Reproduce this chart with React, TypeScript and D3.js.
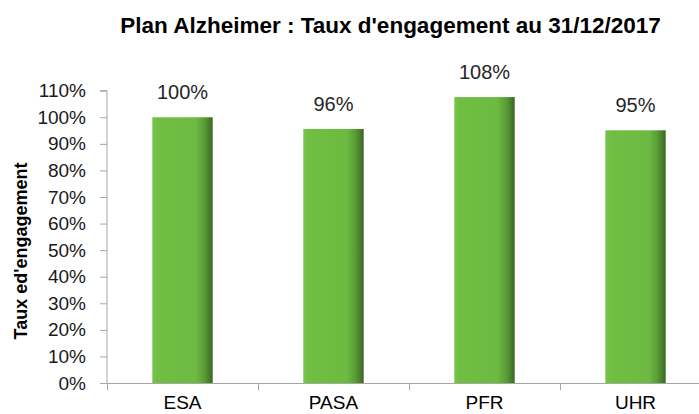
import React, { useRef, useEffect } from "react";
import * as d3 from "d3";

// Chart data
const categories = ["ESA", "PASA", "PFR", "UHR"];
const values = [1.0, 0.956, 1.076, 0.951];
const valueLabels = ["100%", "96%", "108%", "95%"];
const yTicks = [0, 0.1, 0.2, 0.3, 0.4, 0.5, 0.6, 0.7, 0.8, 0.9, 1.0, 1.1];

const title = "Plan Alzheimer : Taux d'engagement au 31/12/2017";
const yTitle = "Taux ed'engagement";

const FONT = "Liberation Sans, Arial, sans-serif";

export default function App() {
    const svgRef = useRef<SVGSVGElement>(null);

    useEffect(() => {
        if (!svgRef.current) return;
        const svg = d3.select(svgRef.current);
        svg.selectAll("*").remove();

        const W = 699;
        const H = 414;
        const margin = { top: 90, left: 107, bottom: 31 };
        const plotBottom = H - margin.bottom; // 383
        const plotRight = 711; // axis runs off the right edge

        const x = d3.scaleBand<string>()
            .domain(categories)
            .range([margin.left, plotRight])
            .paddingInner(0.6)
            .paddingOuter(0.3);

        const y = d3.scaleLinear()
            .domain([0, 1.1])
            .range([plotBottom, margin.top + 0.7]);

        svg.attr("width", W).attr("height", H);

        // Gradient for bars
        const defs = svg.append("defs");
        const grad = defs.append("linearGradient")
            .attr("id", "barGrad")
            .attr("x1", "0%").attr("y1", "0%")
            .attr("x2", "100%").attr("y2", "0%");
        grad.append("stop").attr("offset", "0%").attr("stop-color", "#78c44c");
        grad.append("stop").attr("offset", "8%").attr("stop-color", "#70bf44");
        grad.append("stop").attr("offset", "72%").attr("stop-color", "#6cba41");
        grad.append("stop").attr("offset", "86%").attr("stop-color", "#5a9c36");
        grad.append("stop").attr("offset", "100%").attr("stop-color", "#3b6825");

        // Title
        svg.append("text")
            .attr("x", 390.5)
            .attr("y", 33)
            .attr("text-anchor", "middle")
            .attr("font-family", FONT)
            .attr("font-weight", "bold")
            .attr("font-size", "22.5px")
            .attr("fill", "#000")
            .text(title);

        // Y axis
        const yAxis = svg.append("g")
            .attr("transform", `translate(${margin.left},0)`)
            .call(d3.axisLeft(y)
                .tickValues(yTicks)
                .tickSize(7)
                .tickPadding(14)
                .tickFormat(d => `${Math.round((d as number) * 100)}%`));
        yAxis.select(".domain").attr("stroke", "#a6a6a6").attr("d", `M-7,${y(1.1)}H0V${plotBottom}`);
        yAxis.selectAll(".tick line").attr("stroke", "#a6a6a6");
        yAxis.selectAll(".tick text")
            .attr("fill", "#1a1a1a")
            .attr("font-family", FONT)
            .attr("font-size", "19px");

        // Y title
        svg.append("text")
            .attr("transform", `translate(27,${251}) rotate(-90)`)
            .attr("text-anchor", "middle")
            .attr("font-family", FONT)
            .attr("font-weight", "bold")
            .attr("font-size", "18px")
            .attr("fill", "#000")
            .text(yTitle);

        // Bars
        svg.append("g")
            .selectAll("rect")
            .data(values)
            .join("rect")
            .attr("x", (_, i) => x(categories[i])!)
            .attr("y", d => y(d))
            .attr("width", x.bandwidth())
            .attr("height", d => plotBottom - y(d))
            .attr("fill", "url(#barGrad)");

        // Value labels
        svg.append("g")
            .selectAll("text")
            .data(values)
            .join("text")
            .attr("x", (_, i) => x(categories[i])! + x.bandwidth() / 2)
            .attr("y", d => y(d) - 18)
            .attr("text-anchor", "middle")
            .attr("font-family", FONT)
            .attr("font-size", "20px")
            .attr("fill", "#262626")
            .text((_, i) => valueLabels[i]);

        // X axis line
        const step = x.step();
        const bounds = d3.range(categories.length + 1).map(i => margin.left + i * step);
        const xAxis = svg.append("g");
        xAxis.append("line")
            .attr("x1", margin.left).attr("x2", plotRight)
            .attr("y1", plotBottom + 0.5).attr("y2", plotBottom + 0.5)
            .attr("stroke", "#a6a6a6");
        xAxis.selectAll("line.tick")
            .data(bounds)
            .join("line")
            .attr("class", "tick")
            .attr("x1", d => d + 0.5).attr("x2", d => d + 0.5)
            .attr("y1", plotBottom).attr("y2", plotBottom + 7)
            .attr("stroke", "#a6a6a6");
        xAxis.selectAll("text")
            .data(categories)
            .join("text")
            .attr("x", d => x(d)! + x.bandwidth() / 2)
            .attr("y", 409)
            .attr("text-anchor", "middle")
            .attr("font-family", FONT)
            .attr("font-size", "19px")
            .attr("fill", "#000")
            .text(d => d);
    }, []);

    return (
        <div style={{ position: "absolute", left: 0, top: 0 }}>
            <svg ref={svgRef} style={{ display: "block" }} />
        </div>
    );
}
